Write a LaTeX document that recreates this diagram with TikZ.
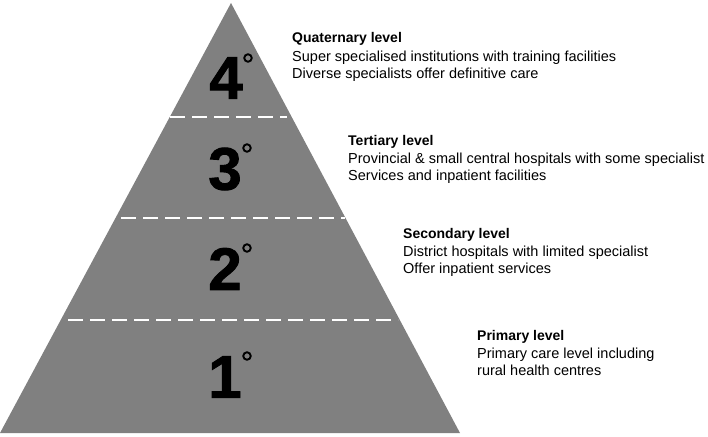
\documentclass[tikz,border=0pt]{standalone}
\usepackage{fontspec}
\setmainfont{Liberation Sans}
\newfontfamily\digitfont[FakeBold=1.5]{Liberation Sans Bold}
\definecolor{pyr}{RGB}{128,128,128}
\tikzset{
  desc/.style={anchor=base west, inner sep=0pt, font=\fontsize{14.5}{17}\selectfont},
  head/.style={desc, font=\fontsize{14}{17}\selectfont\bfseries},
  digit/.style={inner sep=0pt, font=\fontsize{60}{60}\digitfont},
  degring/.style={circle, draw=black, line width=1.9pt, inner sep=0pt, minimum size=7.5pt},
  sep/.style={draw=white, line width=1.8pt, dash pattern=on 15pt off 7pt}
}
\begin{document}
\begin{tikzpicture}[x=1pt,y=-1pt]
\useasboundingbox (0,0) rectangle (708,436);
\coordinate (bl) at (0,433);
\coordinate (apex) at (231,3);
\coordinate (br) at (460,433);
\fill[pyr] (bl) -- (apex) -- (br) -- cycle;
% separators
\coordinate (s1a) at (170,117); \coordinate (s1b) at (287,117);
\coordinate (s2a) at (121,218); \coordinate (s2b) at (345,218);
\coordinate (s3a) at (68,320);  \coordinate (s3b) at (398,320);
\draw[sep] (s1a) -- (s1b);
\draw[sep] (s2a) -- (s2b);
\draw[sep] (s3a) -- (s3b);
% digits
\node[digit] (d4) at (226,78) {4};
\node[degring] (g4) at (248,58) {};
\node[digit] (d3) at (225,169) {3};
\node[degring] (g3) at (247,148) {};
\node[digit] (d2) at (225,269) {2};
\node[degring] (g2) at (247,248) {};
\node[digit] (d1) at (225,377) {1};
\node[degring] (g1) at (247,356) {};
% texts
\node[head] (q0) at (292,43) {Quaternary level};
\node[desc] (q1) at (292,61) {Super specialised institutions with training facilities};
\node[desc] (q2) at (292,78.5) {Diverse specialists offer definitive care};
\node[head] (t0) at (348,145) {Tertiary level};
\node[desc] (t1) at (348,163) {Provincial \& small central hospitals with some specialist};
\node[desc] (t2) at (348,180.5) {Services and inpatient facilities};
\node[head] (c0) at (403,238) {Secondary level};
\node[desc] (c1) at (403,256) {District hospitals with limited specialist};
\node[desc] (c2) at (403,273.5) {Offer inpatient services};
\node[head] (p0) at (477,340) {Primary level};
\node[desc] (p1) at (477,358) {Primary care level including};
\node[desc] (p2) at (477,375.5) {rural health centres};
\end{tikzpicture}
\end{document}
